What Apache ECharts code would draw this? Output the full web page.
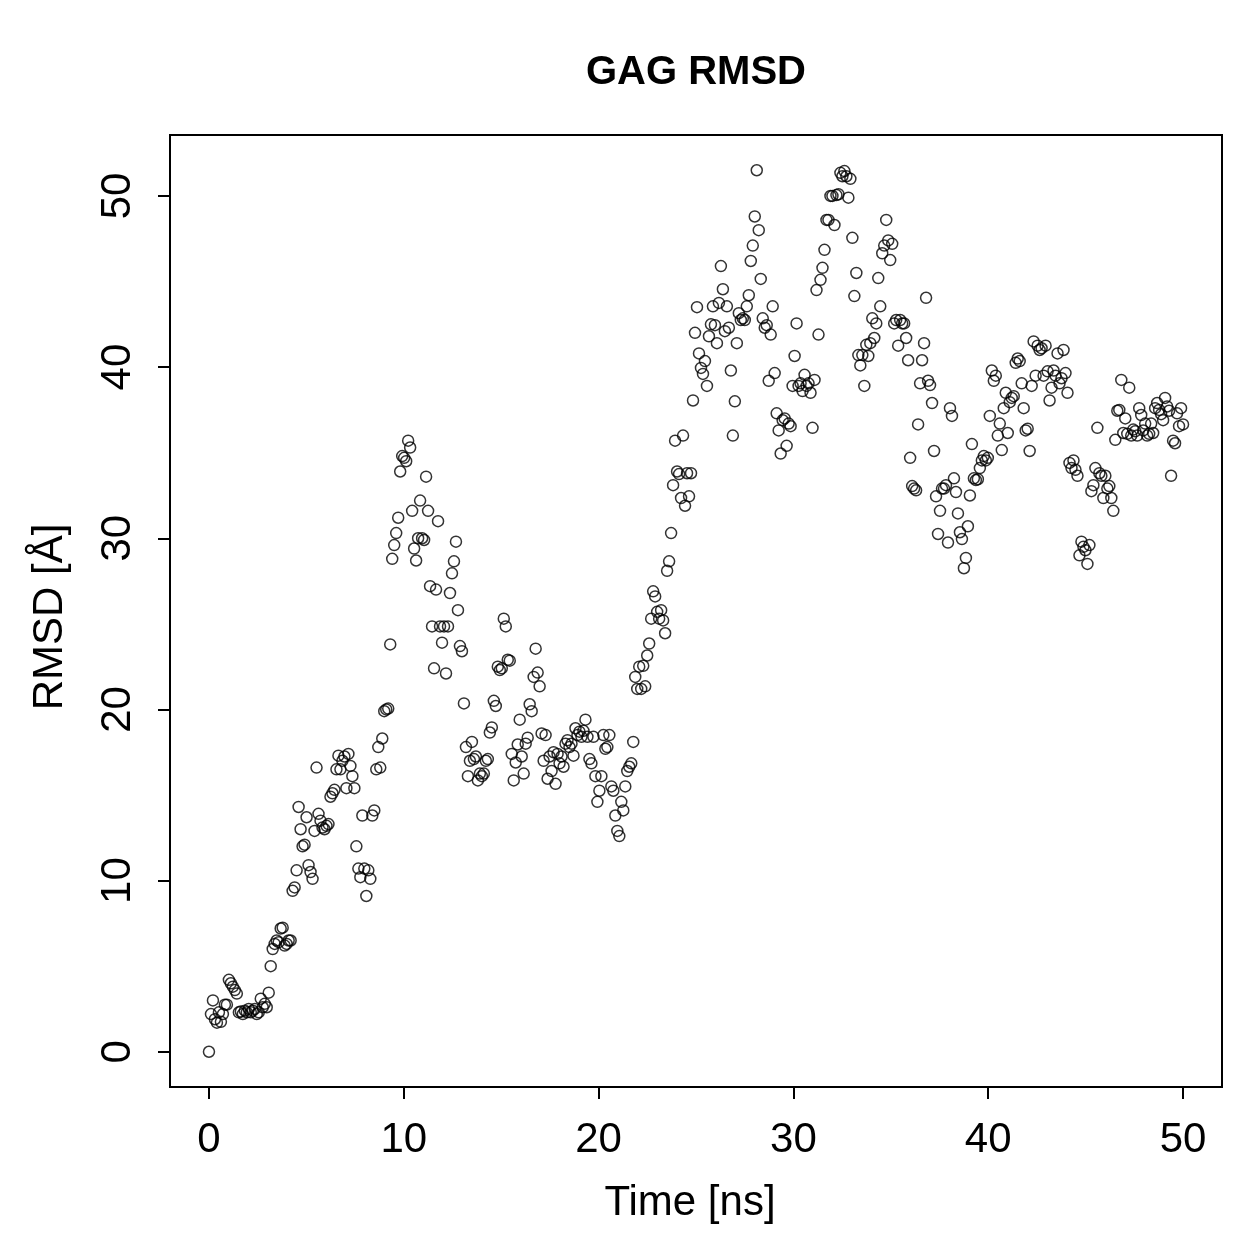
<!DOCTYPE html>
<html>
<head>
<meta charset="utf-8">
<script src="https://cdn.jsdelivr.net/npm/echarts@6/dist/echarts.min.js"></script>
<style>
  html, body { margin: 0; padding: 0; background: #fff; }
  #chart { width: 1259px; height: 1259px; }
</style>
</head>
<body>
<div id="chart"></div>
<script>
// RMSD samples, one every ~0.1 ns from 0 to 50 ns
const rmsd = [
  0, 2.2, 3.0, 1.9, 1.7, 2.3, 1.75, 2.2, 2.75, 2.75,
  4.2, 4.0, 3.8, 3.6, 3.4, 2.3, 2.35, 2.2,
  2.4, 2.3, 2.5, 2.3, 2.4, 2.5, 2.2, 2.3, 3.1, 2.6,
  2.8, 2.6, 3.45, 5.0, 6.0, 6.3, 6.5, 6.4, 7.2, 7.25,
  6.2, 6.3, 6.5, 6.5, 9.4, 9.6, 10.6, 14.3, 13.0, 12.0,
  12.1, 13.7, 10.9, 10.5, 10.1, 12.9, 16.6, 13.9, 13.5, 13.1,
  13.0, 13.2, 13.3, 14.9, 15.1, 15.3, 16.5, 17.3,
  16.5, 17.0, 17.25, 15.4, 17.4, 16.7, 16.1, 15.4, 12.0, 10.7,
  10.2, 13.8, 10.7, 9.1, 10.6, 10.1, 13.8, 14.1, 16.5, 17.8,
  16.6, 18.3, 19.9, 20.0, 20.05, 23.8, 28.8, 29.6, 30.3, 31.2, 33.9, 34.8, 34.7, 34.5, 35.7, 35.3,
  31.6, 29.4, 28.7, 30.0, 32.2, 30.0, 29.9, 33.6, 31.6, 27.2, 24.85, 22.4, 27.0, 31.0, 24.85, 23.9,
  24.85, 22.1, 24.85, 26.8, 27.95, 28.65, 29.8, 25.8, 23.7, 23.4, 20.35, 17.8, 16.1, 17.0, 18.1, 17.1,
  17.25, 15.85, 16.25, 16.1, 16.25, 17.0, 17.1, 18.65, 18.95, 20.5, 20.2, 22.5, 22.3, 22.4, 25.3, 24.85,
  22.9, 22.85, 17.4, 15.85, 16.9, 17.95, 19.4, 17.25, 16.25, 18.0, 18.35, 20.3, 19.9, 21.9, 23.55, 22.15,
  21.35, 18.6, 17.0, 18.5, 15.95, 17.25, 16.4, 17.5, 15.65, 17.4, 16.85, 17.25, 16.65, 18.0, 18.2, 17.8,
  18.0, 17.3, 18.9, 18.5, 18.7, 18.4, 18.75, 19.4, 18.4, 17.1, 16.85, 18.4, 16.1, 14.6, 15.25, 16.1,
  18.5, 17.7, 17.8, 18.5, 15.5, 15.25, 13.8, 12.9, 12.6, 14.6, 14.1, 15.5, 16.4, 16.65, 16.85, 18.1,
  21.9, 21.2, 22.5, 21.2, 22.55, 21.35, 23.15, 23.85, 25.3, 26.9, 26.6, 25.7, 25.3, 25.8, 25.2, 24.45,
  28.1, 28.65, 30.3, 33.1, 35.7, 33.9, 33.75, 32.35, 36.0, 31.9, 33.8, 32.45, 33.8, 38.05, 42.0, 43.5,
  40.8, 39.95, 39.6, 40.35, 38.9, 41.8, 42.5, 43.55, 42.45, 41.4, 43.75, 45.9, 44.55, 42.1, 43.55, 42.3,
  39.8, 36.0, 38.0, 41.4, 43.15, 42.75, 42.85, 42.75, 43.55, 44.2, 46.2, 47.1, 48.8, 51.5, 48.0, 45.15,
  42.85, 42.3, 42.45, 39.2, 41.9, 43.55, 39.65, 37.3, 36.3, 34.95, 36.9, 37.0, 35.4, 36.7, 36.55, 38.9,
  40.65, 42.55, 38.9, 39.05, 38.6, 39.55, 38.9, 39.05, 38.5, 36.45, 39.25, 44.5, 41.9, 45.1, 45.8, 46.85,
  48.6, 48.6, 50.0, 50.0, 48.3, 50.05, 50.1, 51.35, 51.15, 51.45, 51.15, 49.9, 51.0, 47.55, 44.15, 45.5,
  40.7, 40.1, 40.7, 38.9, 41.3, 40.65, 41.4, 42.85, 41.7, 42.55, 45.2, 43.55, 46.65, 47.1, 48.6, 47.4,
  46.25, 47.2, 42.55, 42.75, 41.25, 42.75, 42.55, 42.55, 41.7, 40.4, 34.7, 33.05, 32.9, 32.8, 36.65, 39.05,
  40.4, 41.4, 44.05, 39.2, 38.95, 37.9, 35.1, 32.45, 30.25, 31.6, 32.9, 32.9, 33.1, 29.75, 37.6, 37.15,
  33.5, 32.7, 31.45, 30.35, 29.95, 28.25, 28.85, 30.7, 32.5, 35.5, 33.5, 33.4, 33.45, 34.1, 34.55, 34.8,
  34.55, 34.7, 37.15, 39.8, 39.2, 39.5, 36.0, 36.7, 35.15, 37.6, 38.5, 36.15, 37.95, 38.2, 38.3, 40.25,
  40.5, 40.35, 39.05, 37.6, 36.3, 36.4, 35.1, 38.9, 41.5, 39.5, 41.25, 41.0, 41.1, 39.5, 41.25, 39.75,
  38.05, 38.8, 39.8, 39.5, 40.8, 39.05, 39.35, 41.0, 39.65, 38.5, 34.4, 34.1, 34.55, 34.0, 33.65, 29.0,
  29.8, 29.5, 29.3, 28.5, 29.6, 32.75, 33.1, 34.1, 36.45, 33.8, 33.65, 32.35, 33.65, 32.9, 33.05, 32.35,
  31.6, 35.75, 37.45, 37.5, 39.25, 36.15, 37.0, 36.1, 38.8, 36.0, 36.35, 36.25, 36.0, 37.6, 37.2, 36.3,
  36.7, 36.0, 36.1, 36.7, 36.15, 37.6, 37.9, 37.5, 37.25, 36.9, 38.2, 37.7, 37.45, 33.65, 35.7, 35.55,
  37.3, 36.55, 37.6, 36.65
]
const tEnd = 50
const xTicks = [0, 10, 20, 30, 40, 50]
const yTicks = [0, 10, 20, 30, 40, 50]

// R-style 4% padding around the data range
const xMin = -2, xMax = 52
const yMin = -2.06, yMax = 53.56

const W = 1259, H = 1259
const box = { left: 170, right: 37, top: 135, bottom: 172 }
const tickLen = 12

const dt = tEnd / (rmsd.length - 1)
const points = rmsd.map((v, i) => [i * dt, v])

// the data grid reaches tickLen past the frame on the left and bottom,
// so inward ticks on it sit just outside the frame
const boxW = W - box.left - box.right
const boxH = H - box.top - box.bottom
const xMinExt = xMin - tickLen * (xMax - xMin) / boxW
const yMinExt = yMin - tickLen * (yMax - yMin) / boxH

const font = 'Liberation Sans, Arial, Helvetica, sans-serif'
const chart = echarts.init(document.getElementById('chart'))

chart.setOption({
  animation: false,
  title: {
    text: 'GAG RMSD',
    left: 691,
    top: 48,
    textAlign: 'center',
    textStyle: { fontFamily: font, fontSize: 40, fontWeight: 'bold', color: '#000' }
  },
  grid: [
    { left: box.left - tickLen, right: box.right, top: box.top, bottom: box.bottom - tickLen, show: false },
    { left: box.left, right: box.right, top: box.top, bottom: box.bottom, show: true, borderColor: '#000', borderWidth: 2 }
  ],
  xAxis: [{
    gridIndex: 0,
    type: 'value',
    min: xMinExt, max: xMax,
    name: 'Time [ns]',
    nameLocation: 'middle',
    nameGap: 95 - tickLen,
    nameTextStyle: { fontFamily: font, fontSize: 42, color: '#000' },
    axisLine: { show: false, onZero: false },
    splitLine: { show: false },
    axisTick: { show: true, inside: true, length: tickLen, customValues: xTicks, lineStyle: { color: '#000', width: 2 } },
    axisLabel: { customValues: xTicks, margin: 32 - tickLen, fontFamily: font, fontSize: 42, color: '#000' }
  }, {
    gridIndex: 1, type: 'value', min: xMin, max: xMax, show: false
  }],
  yAxis: [{
    gridIndex: 0,
    type: 'value',
    min: yMinExt, max: yMax,
    name: 'RMSD [Å]',
    nameLocation: 'middle',
    nameGap: 99 - tickLen,
    nameTextStyle: { fontFamily: font, fontSize: 42, color: '#000' },
    axisLine: { show: false, onZero: false },
    splitLine: { show: false },
    axisTick: { show: true, inside: true, length: tickLen, customValues: yTicks, lineStyle: { color: '#000', width: 2 } },
    axisLabel: { customValues: yTicks, rotate: 90, margin: 31 - tickLen, fontFamily: font, fontSize: 42, color: '#000' }
  }, {
    gridIndex: 1, type: 'value', min: yMin, max: yMax, show: false
  }],
  series: [{
    type: 'scatter',
    xAxisIndex: 0,
    yAxisIndex: 0,
    data: points,
    symbol: 'circle',
    symbolSize: 11,
    itemStyle: { color: 'rgba(0,0,0,0)', borderColor: '#000', borderWidth: 1.5 }
  }]
})
</script>
</body>
</html>
